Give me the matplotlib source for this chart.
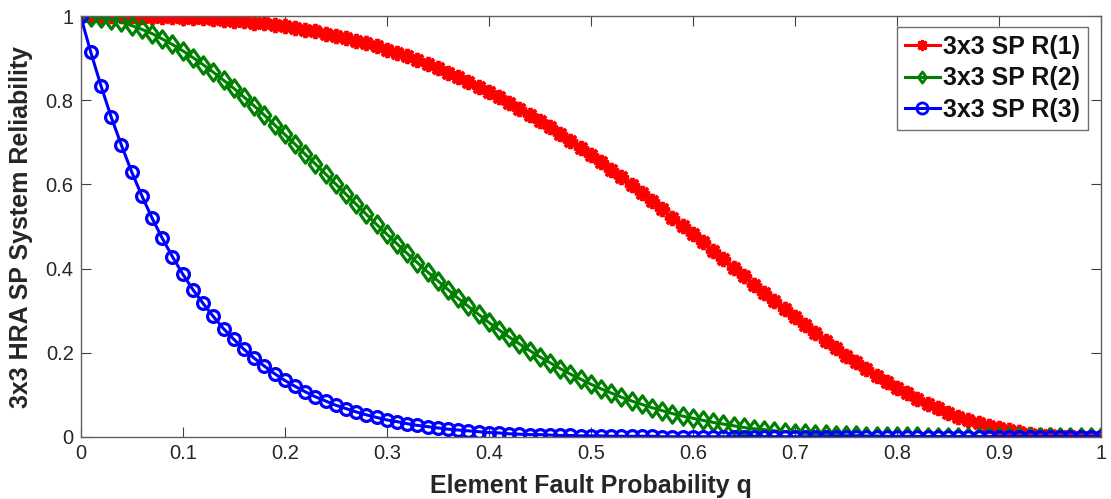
import matplotlib
matplotlib.use("Agg")
import matplotlib.pyplot as plt
from matplotlib.path import Path

plt.rcParams['font.family'] = ['Liberation Sans', 'DejaVu Sans']

# Element fault probability q, sampled every 0.01
q = [i / 100 for i in range(101)]

# 3x3 SP system reliability curves
r1 = [1.000, 1.000, 1.000, 1.000, 1.000, 1.000, 0.999, 0.999, 0.998, 0.998,
      0.997, 0.996, 0.995, 0.993, 0.992, 0.990, 0.988, 0.985, 0.983, 0.980,
      0.976, 0.972, 0.968, 0.964, 0.959, 0.954, 0.948, 0.942, 0.936, 0.929,
      0.921, 0.913, 0.905, 0.896, 0.887, 0.877, 0.866, 0.856, 0.844, 0.832,
      0.820, 0.807, 0.794, 0.780, 0.766, 0.751, 0.736, 0.720, 0.704, 0.687,
      0.670, 0.653, 0.635, 0.617, 0.598, 0.579, 0.560, 0.541, 0.521, 0.502,
      0.482, 0.462, 0.442, 0.422, 0.402, 0.382, 0.362, 0.342, 0.322, 0.303,
      0.284, 0.265, 0.246, 0.228, 0.210, 0.193, 0.177, 0.161, 0.145, 0.130,
      0.116, 0.103, 0.090, 0.079, 0.068, 0.057, 0.048, 0.040, 0.032, 0.026,
      0.020, 0.015, 0.011, 0.007, 0.005, 0.003, 0.002, 0.001, 0.000, 0.000,
      0.000]

r2 = [1.000, 0.999, 0.996, 0.992, 0.986, 0.978, 0.969, 0.959, 0.946, 0.933,
      0.918, 0.902, 0.885, 0.867, 0.848, 0.829, 0.808, 0.787, 0.765, 0.742,
      0.719, 0.696, 0.672, 0.649, 0.625, 0.601, 0.577, 0.553, 0.529, 0.505,
      0.482, 0.459, 0.436, 0.414, 0.392, 0.371, 0.350, 0.329, 0.310, 0.291,
      0.272, 0.254, 0.237, 0.221, 0.205, 0.190, 0.176, 0.162, 0.149, 0.137,
      0.125, 0.114, 0.104, 0.094, 0.085, 0.077, 0.069, 0.062, 0.055, 0.049,
      0.044, 0.039, 0.034, 0.030, 0.026, 0.022, 0.019, 0.017, 0.014, 0.012,
      0.010, 0.008, 0.007, 0.006, 0.005, 0.004, 0.003, 0.002, 0.002, 0.001,
      0.001, 0.001, 0.001, 0.000, 0.000, 0.000, 0.000, 0.000, 0.000, 0.000,
      0.000, 0.000, 0.000, 0.000, 0.000, 0.000, 0.000, 0.000, 0.000, 0.000,
      0.000]

r3 = [1.000, 0.914, 0.834, 0.760, 0.693, 0.630, 0.573, 0.520, 0.472, 0.428,
      0.387, 0.350, 0.317, 0.286, 0.257, 0.232, 0.208, 0.187, 0.168, 0.150,
      0.134, 0.120, 0.107, 0.095, 0.085, 0.075, 0.067, 0.059, 0.052, 0.046,
      0.040, 0.036, 0.031, 0.027, 0.024, 0.021, 0.018, 0.016, 0.014, 0.012,
      0.010, 0.009, 0.007, 0.006, 0.005, 0.005, 0.004, 0.003, 0.003, 0.002,
      0.002, 0.002, 0.001, 0.001, 0.001, 0.001, 0.001, 0.000, 0.000, 0.000,
      0.000, 0.000, 0.000, 0.000, 0.000, 0.000, 0.000, 0.000, 0.000, 0.000,
      0.000, 0.000, 0.000, 0.000, 0.000, 0.000, 0.000, 0.000, 0.000, 0.000,
      0.000, 0.000, 0.000, 0.000, 0.000, 0.000, 0.000, 0.000, 0.000, 0.000,
      0.000, 0.000, 0.000, 0.000, 0.000, 0.000, 0.000, 0.000, 0.000, 0.000,
      0.000]

labels = ['3x3 SP R(1)', '3x3 SP R(2)', '3x3 SP R(3)']
x_ticks = [0, 0.1, 0.2, 0.3, 0.4, 0.5, 0.6, 0.7, 0.8, 0.9, 1]
x_ticklabels = ['0', '0.1', '0.2', '0.3', '0.4', '0.5', '0.6', '0.7', '0.8', '0.9', '1']
y_ticks = [0, 0.2, 0.4, 0.6, 0.8, 1]
y_ticklabels = ['0', '0.2', '0.4', '0.6', '0.8', '1']

# slightly squat diamond marker
diamond = Path([(0, 1), (0.72, 0), (0, -1), (-0.72, 0), (0, 1)],
               [Path.MOVETO, Path.LINETO, Path.LINETO, Path.LINETO, Path.CLOSEPOLY])

fig = plt.figure(figsize=(11.11, 4.99), dpi=100)
ax = fig.add_axes([0.0726, 0.1248, 0.9184, 0.8425])

ax.plot(q, r1, color='#ff0000', lw=2.2, marker=(8, 2, 0), ms=11, mew=2.8,
        label=labels[0])
ax.plot(q, r2, color='#008000', lw=2.2, marker=diamond, ms=12.5, mew=2.3,
        mfc='none', label=labels[1])
ax.plot(q, r3, color='#0000ff', lw=2.2, marker='o', ms=8.5, mew=2.3,
        mfc='none', label=labels[2])

ax.set_xlim(0, 1)
ax.set_ylim(0, 1)
ax.set_xticks(x_ticks)
ax.set_xticklabels(x_ticklabels)
ax.set_yticks(y_ticks)
ax.set_yticklabels(y_ticklabels)

axis_gray = '#262626'
for side in ['left', 'right', 'top', 'bottom']:
    ax.spines[side].set_color('#606060')
    ax.spines[side].set_linewidth(1.0)
ax.tick_params(direction='in', length=7, width=0.8, color='#404040',
               labelsize=14.5, labelcolor=axis_gray, top=True, right=True, pad=5)

ax.set_xlabel('Element Fault Probability q', fontsize=18, fontweight='bold',
              color=axis_gray, labelpad=8)
ax.set_ylabel('3x3 HRA SP System Reliability', fontsize=18, fontweight='bold',
              color=axis_gray, labelpad=9)

leg = ax.legend(loc='upper right', bbox_to_anchor=(0.9875, 0.975),
                prop={'weight': 'bold', 'size': 18}, fancybox=False,
                framealpha=1, edgecolor='#707070', handlelength=1.4,
                handletextpad=0.12, borderpad=0.33, labelspacing=0.29,
                borderaxespad=0)
leg.get_frame().set_linewidth(1.0)
for t in leg.get_texts():
    t.set_color('#111111')
for h in leg.legend_handles:
    h.set_markersize(8)
    h.set_markeredgewidth(2)

fig.savefig('out.png', dpi=100)
